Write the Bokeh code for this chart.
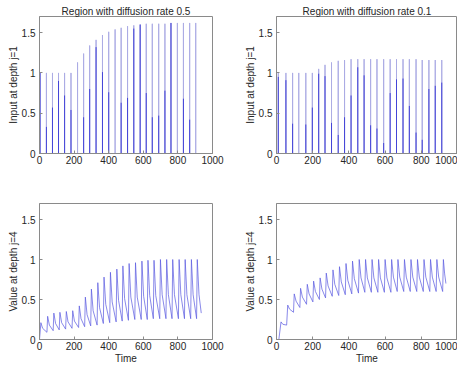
from bokeh.plotting import figure
from bokeh.layouts import column, row
from bokeh.models import FixedTicker, Range1d
from bokeh.embed import file_html
from bokeh.resources import INLINE

# ---------------- data ----------------
x_ticks = [0, 200, 400, 600, 800, 1000]
y_ticks = [0, 0.5, 1, 1.5]
y_tick_labels = ["0", "0.5", "1", "1.5"]

titles = ["Region with diffusion rate 0.5", "Region with diffusion rate 0.1"]
top_ylabel = "Input at depth j=1"
bottom_ylabel = "Value at depth j=4"
xlabel = "Time"

# top-left: input pulses (rate 0.5)
tl_t = [3, 40, 75, 110, 145, 182, 220, 255, 290, 327, 364, 400, 437, 472, 509,
        545, 582, 617, 652, 689, 725, 760, 797, 832, 868, 903]
tl_h = [1.0, 1.0, 1.0, 1.0, 1.0, 1.0, 1.13, 1.24, 1.34, 1.41, 1.47, 1.51, 1.54,
        1.56, 1.58, 1.59, 1.60, 1.61, 1.61, 1.61, 1.61, 1.62, 1.62, 1.62, 1.62, 1.62]
tl_dark = [1.0, 0.33, 0.57, 0.90, 0.72, 0.54, 0.0, 0.45, 0.80, 1.32, 1.01, 0.76,
           0.0, 0.63, 0.69, 1.55, 1.60, 0.75, 0.45, 0.47, 0.78, 1.62, 0.0, 0.68,
           0.42, 0.0]

# top-right: input pulses (rate 0.1)
tr_t = [10, 52, 89, 123, 162, 198, 233, 268, 304, 341, 376, 412, 449, 484, 520,
        555, 592, 628, 663, 699, 734, 771, 805, 842, 877, 913]
tr_h = [1.0, 1.0, 1.0, 1.0, 1.0, 1.0, 1.05, 1.10, 1.13, 1.15, 1.16, 1.17, 1.17,
        1.17, 1.17, 1.17, 1.17, 1.17, 1.17, 1.17, 1.17, 1.17, 1.16, 1.16, 1.16, 1.16]
tr_dark = [0.95, 0.91, 0.37, 0.0, 0.36, 0.57, 0.99, 0.96, 0.38, 0.23, 0.45, 0.72,
           1.07, 0.97, 0.35, 0.31, 0.13, 0.75, 0.92, 0.93, 0.59, 0.26, 0.17, 0.80,
           0.84, 0.88]

# bottom-left: value at depth 4 (rate 0.5)
bl_time = [0, 8, 18, 43, 47, 57, 79, 83, 93, 114, 118, 128, 151, 155, 165, 188,
           192, 202, 226, 230, 240, 261, 265, 275, 296, 300, 310, 333, 337, 347,
           369, 373, 383, 406, 410, 420, 443, 447, 457, 478, 482, 492, 514, 518,
           528, 551, 555, 565, 588, 592, 602, 623, 627, 637, 658, 662, 672, 695,
           699, 709, 731, 735, 745, 766, 770, 780, 803, 807, 817, 838, 842, 852,
           874, 878, 888, 908, 912, 922, 935]
bl_value = [0.0, 0.21, 0.14, 0.09, 0.29, 0.18, 0.11, 0.33, 0.20, 0.12, 0.34, 0.21,
            0.13, 0.35, 0.22, 0.14, 0.36, 0.23, 0.15, 0.42, 0.26, 0.16, 0.53, 0.31,
            0.17, 0.63, 0.36, 0.18, 0.71, 0.40, 0.20, 0.78, 0.44, 0.21, 0.84, 0.47,
            0.22, 0.88, 0.49, 0.23, 0.92, 0.51, 0.24, 0.95, 0.53, 0.25, 0.96, 0.53,
            0.25, 0.98, 0.54, 0.25, 0.99, 0.55, 0.26, 0.99, 0.55, 0.26, 1.0, 0.56,
            0.26, 1.0, 0.56, 0.26, 1.0, 0.56, 0.26, 1.0, 0.56, 0.26, 1.0, 0.56,
            0.26, 1.0, 0.56, 0.26, 1.0, 0.56, 0.33]

# bottom-right: value at depth 4 (rate 0.1)
br_time = [13, 25, 35, 56, 62, 72, 94, 98, 108, 129, 133, 143, 166, 170, 180, 201,
           205, 215, 237, 241, 251, 271, 275, 285, 308, 312, 322, 344, 348, 358,
           380, 384, 394, 416, 420, 430, 453, 457, 467, 488, 492, 502, 524, 528,
           538, 560, 564, 574, 596, 600, 610, 632, 636, 646, 667, 671, 681, 703,
           707, 717, 739, 743, 753, 775, 779, 789, 811, 815, 825, 847, 851, 861,
           882, 886, 896, 918, 922, 929, 936]
br_value = [0.0, 0.22, 0.19, 0.18, 0.43, 0.38, 0.34, 0.57, 0.48, 0.40, 0.64, 0.53,
            0.44, 0.69, 0.57, 0.47, 0.73, 0.60, 0.50, 0.77, 0.63, 0.52, 0.83, 0.67,
            0.54, 0.87, 0.69, 0.55, 0.91, 0.72, 0.56, 0.95, 0.74, 0.57, 0.98, 0.76,
            0.58, 1.0, 0.77, 0.59, 1.0, 0.77, 0.59, 1.0, 0.77, 0.59, 1.0, 0.77,
            0.59, 1.0, 0.77, 0.59, 1.0, 0.78, 0.60, 1.0, 0.78, 0.60, 1.0, 0.78,
            0.60, 1.0, 0.78, 0.60, 1.0, 0.78, 0.60, 1.0, 0.78, 0.60, 1.0, 0.78,
            0.60, 1.0, 0.78, 0.60, 1.0, 0.82, 0.70]

# ---------------- style ----------------
FONT = "Liberation Sans"
TXT = "#262626"
GRAY = "#8a8a8a"
LIGHT = "#acace4"
DARK = "#4444d8"
CURVE = "#5a5ae0"


def make_fig(width, height, left, right, top, bottom, title=None,
             ylabel="", show_xlabel=False):
    p = figure(width=width, height=height,
               x_range=Range1d(0, 1000), y_range=Range1d(0, 1.7),
               output_backend="svg", toolbar_location=None,
               min_border_left=left, min_border_right=right,
               min_border_top=top, min_border_bottom=bottom)
    p.grid.visible = False
    p.background_fill_color = "white"
    p.border_fill_color = "white"
    p.outline_line_color = GRAY
    if title:
        p.title.text = title
        p.title.align = "center"
        p.title.text_font = FONT
        p.title.text_font_size = "10px"
        p.title.text_font_style = "normal"
        p.title.text_color = TXT
        p.title.standoff = 0
    for ax in (p.xaxis[0], p.yaxis[0]):
        ax.axis_line_color = GRAY
        ax.major_tick_line_color = GRAY
        ax.minor_tick_line_color = None
        ax.major_tick_in = 3
        ax.major_tick_out = 0
        ax.major_label_text_font = FONT
        ax.major_label_text_font_size = "10px"
        ax.major_label_text_color = TXT
        ax.axis_label_text_font = FONT
        ax.axis_label_text_font_size = "10px"
        ax.axis_label_text_font_style = "normal"
        ax.axis_label_text_color = TXT
    p.xaxis[0].ticker = FixedTicker(ticks=x_ticks)
    p.yaxis[0].ticker = FixedTicker(ticks=y_ticks)
    p.yaxis[0].major_label_overrides = {t: s for t, s in zip(y_ticks, y_tick_labels)}
    p.xaxis[0].major_label_standoff = 2
    p.yaxis[0].major_label_standoff = 4
    p.yaxis[0].axis_label = ylabel
    p.yaxis[0].axis_label_standoff = 0
    if show_xlabel:
        p.xaxis[0].axis_label = xlabel
        p.xaxis[0].axis_label_standoff = 0
    return p


def pulse_path(ts, hs):
    xs, ys = [], []
    for t, h in zip(ts, hs):
        xs += [t, t, t]
        ys += [0, h, 0]
    return xs, ys


# top row
p1 = make_fig(236, 178, 39, 24, 16, 25, title=titles[0], ylabel=top_ylabel)
x1, y1 = pulse_path(tl_t, tl_h)
p1.line(x1, y1, line_color=LIGHT, line_width=1)
p1.segment(x0=tl_t, y0=[0] * len(tl_t), x1=tl_t, y1=tl_dark,
           line_color=DARK, line_width=1)

p2 = make_fig(221, 178, 40, 0, 16, 25, title=titles[1], ylabel=top_ylabel)
x2, y2 = pulse_path(tr_t, tr_h)
p2.line(x2, y2, line_color=LIGHT, line_width=1)
p2.segment(x0=tr_t, y0=[0] * len(tr_t), x1=tr_t, y1=tr_dark,
           line_color=DARK, line_width=1)

# bottom row
p3 = make_fig(236, 188, 39, 24, 25, 27, ylabel=bottom_ylabel, show_xlabel=True)
p3.line(bl_time, bl_value, line_color=CURVE, line_width=0.9, line_alpha=0.8)

p4 = make_fig(221, 188, 40, 0, 25, 27, ylabel=bottom_ylabel, show_xlabel=True)
p4.line(br_time, br_value, line_color=CURVE, line_width=0.9, line_alpha=0.8)

layout = column(row(p1, p2), row(p3, p4))

open("out.html", "w").write(file_html(layout, INLINE))
